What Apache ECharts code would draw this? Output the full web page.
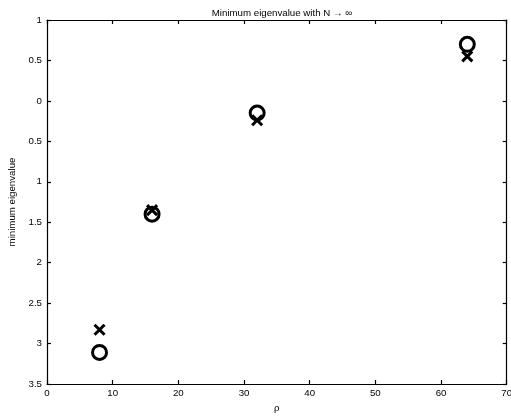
<!DOCTYPE html>
<html>
<head>
<meta charset="utf-8">
<script src="https://cdn.jsdelivr.net/npm/echarts@6/dist/echarts.min.js"></script>
<style>
  html, body { margin: 0; padding: 0; background: #fff; }
  #chart { width: 511px; height: 416px; }
</style>
</head>
<body>
<div id="chart"></div>
<script>
// values
var rho = [8, 16, 32, 64];
var circleVals = [-3.11, -1.40, -0.15, 0.70];
var crossVals = [-2.83, -1.35, -0.24, 0.55];

var font = 'Liberation Sans, Arial, sans-serif';
var fs = 9.7;
var crossPath = 'path://M0,0L10,10M10,0L0,10';

function pairs(xs, ys) {
  return xs.map(function (x, i) { return [x, ys[i]]; });
}

var chart = echarts.init(document.getElementById('chart'));

var axisLine = { show: true, onZero: false, lineStyle: { color: '#000', width: 1.2 } };
var tick = { show: true, inside: true, length: 4, lineStyle: { color: '#000', width: 1.2 } };

chart.setOption({
  animation: false,
  title: {
    text: 'Minimum eigenvalue with N \u2192 \u221e',
    left: 277,
    top: 3,
    textAlign: 'center',
    textStyle: { fontFamily: font, fontSize: fs, fontWeight: 'normal', color: '#000' }
  },
  grid: { left: 47, right: 4.3, top: 20, bottom: 32, outerBoundsMode: 'none', containLabel: false },
  xAxis: [{
    type: 'value', min: 0, max: 70, interval: 10,
    name: '\u03c1', nameLocation: 'middle', nameGap: 17,
    nameTextStyle: { fontFamily: font, fontSize: fs, color: '#000' },
    axisLine: axisLine, axisTick: tick,
    axisLabel: { fontFamily: font, fontSize: fs, color: '#000', margin: 4 },
    splitLine: { show: false }
  }, {
    type: 'value', min: 0, max: 70, interval: 10, position: 'top',
    axisLine: axisLine, axisTick: tick, axisLabel: { show: false }, splitLine: { show: false }
  }],
  yAxis: [{
    type: 'value', min: -3.5, max: 1, interval: 0.5,
    name: 'minimum eigenvalue', nameLocation: 'middle', nameGap: 24,
    nameTextStyle: { fontFamily: font, fontSize: fs, color: '#000' },
    axisLine: axisLine, axisTick: tick,
    axisLabel: {
      fontFamily: font, fontSize: fs, color: '#000', margin: 5,
      formatter: function (v) { return String(Math.abs(Math.round(v * 10) / 10)); }
    },
    splitLine: { show: false }
  }, {
    type: 'value', min: -3.5, max: 1, interval: 0.5, position: 'right',
    axisLine: axisLine, axisTick: tick, axisLabel: { show: false }, splitLine: { show: false }
  }],
  series: [{
    type: 'scatter',
    data: pairs(rho, crossVals),
    symbol: crossPath,
    symbolSize: 10,
    itemStyle: { color: 'rgba(0,0,0,0)', borderColor: '#000', borderWidth: 3, opacity: 1 }
  }, {
    type: 'scatter',
    data: pairs(rho, circleVals),
    symbol: 'circle',
    symbolSize: 14,
    itemStyle: { color: 'rgba(0,0,0,0)', borderColor: '#000', borderWidth: 3, opacity: 1 }
  }]
});
</script>
</body>
</html>
